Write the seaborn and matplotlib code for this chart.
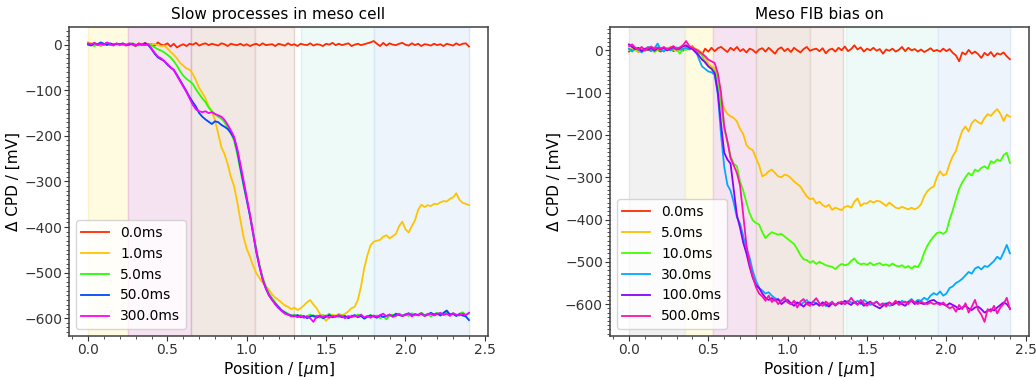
import numpy as np
import pandas as pd
import matplotlib
matplotlib.use("Agg")
import matplotlib.pyplot as plt
import seaborn as sns
from matplotlib.ticker import MultipleLocator

# Scan positions along the line profile (µm)
position_um = np.round(np.arange(121) * 0.02, 2)

# ---------------- Slow processes in meso cell ----------------
slow_labels = ["0.0ms", "1.0ms", "5.0ms", "50.0ms", "300.0ms"]
slow_colors = ["#ff2a00", "#ffc400", "#22ff00", "#0048ff", "#ff00ff"]

slow_0ms = [
    2, -1, 3, 0, -2, 1, 4, -1, 0, 2,
    -1, 1, -2, 2, 0, -3, 3, 0, 4, -1,
    1, -2, 5, 0, -1, 3, -4, 2, -6, -2,
    1, -3, 2, 0, 4, -2, 1, 3, -1, 2,
    0, -2, 3, 1, -3, 2, 0, -1, 2, -2,
    1, -3, 0, 2, -2, 3, -1, 0, 1, -3,
    2, 0, -2, 3, -1, 1, -3, 2, 0, -1,
    3, -2, 1, 0, -3, 2, 0, 4, -1, 2,
    -1, 1, 3, -3, 0, 2, -1, 1, 3, 5,
    8, 2, -3, 4, -2, 3, 0, -1, 2, 4,
    0, -2, 3, -1, 2, -3, 1, 0, -2, 2,
    -1, 1, -3, 2, 0, -2, 3, -1, 2, 3,
    -4,
]
slow_1ms = [
    5, 3, 1, 0, 2, -1, 3, 1, 0, 2,
    1, -1, 2, 0, 3, 1, -1, 2, 0, 1,
    0, 2, -1, -3, -2, -8, -16, -22, -30, -40,
    -46, -52, -55, -64, -78, -95, -106, -118, -135, -146,
    -165, -195, -225, -240, -262, -290, -310, -345, -385, -422,
    -448, -465, -485, -501, -512, -522, -530, -538, -548, -555,
    -560, -566, -572, -575, -580, -577, -582, -578, -572, -565,
    -560, -570, -578, -590, -597, -606, -597, -592, -595, -590,
    -594, -590, -585, -578, -575, -560, -530, -490, -462, -440,
    -432, -430, -428, -421, -418, -425, -420, -415, -398, -388,
    -405, -412, -398, -385, -362, -351, -356, -352, -354, -349,
    -350, -346, -343, -344, -338, -335, -326, -340, -347, -349,
    -352,
]
slow_5ms = [
    2, 0, -3, 1, -2, 0, 3, -1, 1, 0,
    2, -1, 0, 1, 3, 0, -2, 1, 0, 2,
    -2, -6, -10, -13, -17, -22, -28, -36, -46, -58,
    -68, -75, -80, -86, -98, -108, -118, -126, -138, -146,
    -152, -158, -162, -170, -182, -194, -210, -240, -275, -310,
    -342, -372, -410, -448, -482, -510, -530, -546, -556, -566,
    -574, -582, -586, -590, -594, -592, -596, -593, -598, -595,
    -592, -597, -594, -599, -593, -596, -590, -597, -594, -598,
    -593, -596, -599, -594, -597, -592, -595, -600, -596, -593,
    -597, -594, -600, -596, -602, -595, -592, -596, -590, -594,
    -591, -595, -589, -594, -592, -588, -593, -590, -596, -591,
    -588, -594, -590, -586, -592, -589, -595, -590, -587, -593,
    -590,
]
slow_50ms = [
    0, -2, 3, 1, 5, 2, -1, 3, 0, 2,
    1, 3, -1, 0, 2, -2, 1, 0, 3, -1,
    -10, -20, -28, -32, -36, -44, -50, -55, -66, -78,
    -90, -102, -115, -126, -136, -150, -158, -164, -169, -174,
    -168, -170, -176, -180, -185, -194, -205, -232, -270, -305,
    -340, -376, -415, -455, -487, -515, -535, -550, -560, -568,
    -576, -583, -588, -592, -594, -596, -593, -598, -595, -600,
    -596, -594, -599, -595, -600, -597, -593, -598, -596, -594,
    -598, -595, -600, -596, -593, -598, -595, -601, -597, -594,
    -596, -599, -594, -597, -595, -592, -596, -590, -593, -595,
    -592, -589, -594, -591, -593, -590, -595, -592, -588, -592,
    -590, -594, -588, -583, -592, -590, -595, -591, -594, -596,
    -604,
]
slow_300ms = [
    3, 1, 4, -1, 2, 0, 5, 1, -2, 3,
    0, 2, -1, 3, 1, -2, 2, 0, -1, 1,
    -8, -18, -26, -30, -36, -42, -50, -56, -68, -80,
    -92, -104, -118, -132, -142, -146, -148, -146, -150, -148,
    -152, -155, -158, -165, -176, -188, -202, -228, -262, -298,
    -335, -372, -412, -452, -486, -514, -534, -549, -560, -570,
    -578, -584, -590, -592, -596, -594, -598, -595, -599, -596,
    -600, -608, -596, -594, -598, -594, -599, -595, -597, -593,
    -596, -600, -595, -598, -594, -597, -592, -598, -595, -599,
    -594, -597, -593, -590, -596, -592, -597, -594, -591, -595,
    -593, -590, -596, -591, -594, -589, -595, -592, -590, -594,
    -591, -588, -593, -590, -595, -589, -592, -594, -590, -593,
    -588,
]
slow_series = [slow_0ms, slow_1ms, slow_5ms, slow_50ms, slow_300ms]

# Layer regions of the meso cell: (start, end, fill, edge)
slow_bands = [
    (0.00, 0.25, "#fffbe1", "#fbf3c8"),
    (0.25, 0.65, "#f6e3f1", "#ecc8e0"),
    (0.65, 1.05, "#f1e7e3", "#d9bcc3"),
    (1.05, 1.30, "#f5eeeb", "#e6d3cc"),
    (1.34, 1.80, "#eefaf7", "#dcf2ee"),
    (1.80, 2.40, "#eef4fc", "#d6e8f5"),
]

# ---------------- Meso FIB bias on ----------------
fib_labels = ["0.0ms", "5.0ms", "10.0ms", "30.0ms", "100.0ms", "500.0ms"]
fib_colors = ["#ff2a00", "#ffc000", "#44ff00", "#00aaff", "#8a00ff", "#ff10b0"]

fib_0ms = [
    -3, 5, 2, -4, 6, 0, 3, -2, 7, 1,
    -3, 4, 0, 6, -2, 3, 5, -1, 8, 4,
    10, -2, -6, -10, 4, -3, 6, -2, 5, 8,
    2, -4, 6, 0, 8, -2, 3, -5, 4, 1,
    -6, 2, 5, -3, 6, -1, -8, 3, 7, -2,
    4, -4, 6, 0, -5, 3, 8, -1, 2, 4,
    -2, 5, -7, 1, 4, -3, 6, 0, 9, -2,
    3, 12, 2, 7, -3, 4, 0, 6, -1, 3,
    -8, 2, -1, 4, -3, 1, 8, -2, 6, 0,
    3, -3, 2, -4, 0, 5, -2, 1, -3, 4,
    -2, 3, -6, -12, -26, -5, -10, 1, -8, -3,
    -9, -18, -6, -12, -4, -15, -7, -10, -5, -14,
    -21,
]
fib_5ms = [
    3, 6, 0, -4, 5, 2, 8, 1, -3, 4,
    6, 0, 3, 8, 2, -2, 5, 3, 7, 4,
    8, 4, 0, -6, -18, -32, -38, -42, -60, -115,
    -138, -150, -156, -160, -168, -186, -198, -224, -232, -236,
    -255, -272, -298, -294, -286, -282, -290, -298, -300, -294,
    -296, -302, -310, -316, -322, -334, -345, -352, -350, -362,
    -358, -366, -370, -365, -377, -372, -375, -378, -370, -368,
    -372, -358, -350, -368, -362, -362, -356, -360, -356, -357,
    -362, -368, -360, -366, -372, -374, -370, -373, -376, -372,
    -376, -372, -364, -345, -333, -326, -322, -300, -286, -296,
    -292, -268, -250, -238, -212, -190, -180, -192, -172, -164,
    -170, -174, -160, -151, -155, -146, -139, -150, -167, -152,
    -157,
]
fib_10ms = [
    2, -3, 4, 0, 6, -2, 3, 5, -4, 1,
    3, -1, 5, 0, 2, 4, -8, 3, 1, 5,
    4, 0, -3, -12, -30, -38, -42, -48, -72, -130,
    -186, -215, -250, -268, -274, -310, -332, -360, -385, -402,
    -408, -412, -430, -444, -436, -430, -433, -436, -434, -440,
    -446, -452, -458, -470, -484, -494, -496, -502, -498, -505,
    -500, -504, -508, -510, -512, -517, -510, -505, -508, -506,
    -498, -492, -502, -506, -504, -507, -502, -508, -505, -503,
    -508, -506, -510, -504, -509, -511, -508, -514, -510, -516,
    -510, -513, -500, -478, -462, -450, -440, -432, -430, -434,
    -428, -400, -378, -352, -328, -312, -300, -290, -296, -282,
    -286, -278, -274, -280, -262, -266, -258, -262, -248, -242,
    -266,
]
fib_30ms = [
    4, -2, 6, 1, -5, 3, 8, 0, 4, 16,
    2, -3, 5, 0, 4, 7, 1, 3, 6, 2,
    5, 0, -20, -38, -44, -50, -52, -58, -105, -200,
    -275, -318, -332, -360, -395, -410, -440, -468, -490, -522,
    -545, -562, -568, -575, -572, -580, -586, -590, -592, -588,
    -596, -600, -594, -598, -602, -596, -590, -600, -594, -598,
    -602, -596, -605, -600, -594, -604, -598, -595, -600, -592,
    -596, -598, -592, -600, -590, -596, -602, -598, -594, -603,
    -600, -598, -604, -602, -596, -600, -592, -597, -594, -588,
    -596, -590, -592, -585, -590, -580, -574, -578, -570, -580,
    -575, -562, -558, -550, -546, -540, -532, -524, -528, -516,
    -512, -518, -510, -512, -505, -498, -488, -494, -478, -460,
    -480,
]
fib_100ms = [
    14, 8, 3, 6, -2, 4, 1, 7, -1, 5,
    3, 6, 0, 4, 8, 2, 5, 9, 12, 6,
    3, -5, -12, -22, -28, -38, -44, -54, -100, -175,
    -242, -258, -268, -330, -390, -420, -455, -480, -512, -538,
    -555, -562, -575, -585, -590, -586, -592, -588, -600, -594,
    -590, -598, -604, -596, -600, -606, -598, -596, -602, -598,
    -604, -596, -600, -606, -598, -602, -596, -600, -592, -598,
    -602, -594, -600, -596, -604, -598, -594, -602, -606, -610,
    -604, -600, -596, -602, -598, -594, -600, -604, -596, -592,
    -600, -594, -598, -600, -596, -592, -590, -596, -598, -600,
    -604, -598, -602, -606, -612, -608, -604, -610, -614, -608,
    -606, -612, -620, -616, -612, -615, -608, -602, -596, -600,
    -610,
]
fib_500ms = [
    10, 14, 6, 2, 8, 0, 5, 9, 3, 7,
    4, 8, 2, 6, 10, 3, 7, 12, 22, 10,
    6, 2, -2, -8, -14, -22, -26, -30, -55, -100,
    -180, -215, -255, -272, -290, -320, -390, -460, -505, -535,
    -560, -575, -582, -592, -580, -595, -588, -600, -592, -584,
    -596, -600, -592, -608, -594, -588, -600, -604, -594, -586,
    -598, -604, -594, -600, -596, -602, -598, -594, -600, -596,
    -585, -596, -602, -590, -598, -604, -596, -600, -594, -602,
    -598, -606, -596, -600, -592, -602, -598, -594, -600, -590,
    -596, -600, -594, -598, -600, -596, -600, -598, -602, -596,
    -604, -610, -606, -618, -602, -612, -598, -620, -606, -590,
    -614, -625, -642, -612, -618, -604, -622, -608, -600, -585,
    -612,
]
fib_series = [fib_0ms, fib_5ms, fib_10ms, fib_30ms, fib_100ms, fib_500ms]

fib_bands = [
    (0.00, 0.35, "#f1f1f1", "#e6e6e6"),
    (0.35, 0.53, "#fffbe1", "#f6efc8"),
    (0.53, 0.80, "#f6e3f1", "#ecd0e2"),
    (0.80, 1.14, "#f1e7e3", "#e0d0cc"),
    (1.14, 1.35, "#f5eeeb", "#e5d8d4"),
    (1.37, 1.95, "#eefaf7", "#e2f4f0"),
    (1.95, 2.40, "#eef4fc", "#dfeaf6"),
]

plt.rcParams.update({
    "font.family": ["DejaVu Sans"],
    "axes.edgecolor": "0.25",
    "axes.linewidth": 1.1,
    "xtick.color": "0.2",
    "ytick.color": "0.2",
    "xtick.labelsize": 10,
    "ytick.labelsize": 10,
    "xtick.major.pad": 1.5,
    "ytick.major.pad": 1.5,
    "xtick.major.size": 3.5,
    "ytick.major.size": 3.5,
    "xtick.minor.size": 2.0,
    "ytick.minor.size": 2.0,
})


def draw_panel(ax, title, labels, series, colors, bands):
    for lo, hi, face, edge in bands:
        ax.axvspan(lo, hi, facecolor=face, edgecolor=edge, linewidth=1.0, zorder=0)
    frame = pd.DataFrame({
        "position": np.tile(position_um, len(labels)),
        "cpd": np.concatenate([np.asarray(s, dtype=float) for s in series]),
        "delay": np.repeat(labels, len(position_um)),
    })
    sns.lineplot(data=frame, x="position", y="cpd", hue="delay",
                 hue_order=labels, palette=dict(zip(labels, colors)),
                 errorbar=None, linewidth=1.3, ax=ax)
    handles, names = ax.get_legend_handles_labels()
    ax.legend(handles, names, loc="lower left", fontsize=10)
    ax.set_title(title, fontsize=11)
    ax.set_xlabel("Position / [$\\mu$m]", fontsize=11, labelpad=2)
    ax.set_ylabel("\u0394 CPD / [mV]", fontsize=11, labelpad=2)
    ax.xaxis.set_major_locator(MultipleLocator(0.5))
    ax.xaxis.set_minor_locator(MultipleLocator(0.1))
    ax.yaxis.set_major_locator(MultipleLocator(100))
    ax.yaxis.set_minor_locator(MultipleLocator(10))
    ax.set_xlim(-0.12, 2.52)


fig, (ax_left, ax_right) = plt.subplots(1, 2, figsize=(10.36, 3.8), dpi=100)
fig.subplots_adjust(left=0.0666, right=0.9932, top=0.929, bottom=0.116, wspace=0.291)

draw_panel(ax_left, "Slow processes in meso cell", slow_labels, slow_series, slow_colors, slow_bands)
draw_panel(ax_right, "Meso FIB bias on", fib_labels, fib_series, fib_colors, fib_bands)

fig.savefig("out.png", dpi=100)
